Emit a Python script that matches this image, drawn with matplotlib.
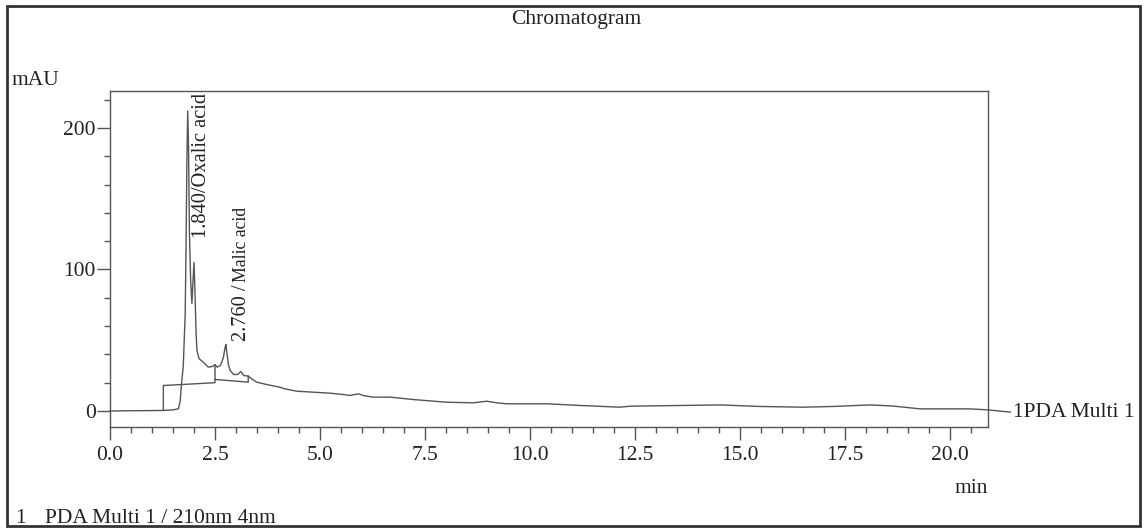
import matplotlib
matplotlib.use("Agg")
import matplotlib.pyplot as plt
import numpy as np
from matplotlib.patches import Rectangle

plt.rcParams["font.family"] = ["Liberation Serif", "DejaVu Serif"]

# --- detector trace (PDA Multi 1, 210 nm) ---
time_min = [0.0, 0.5, 1.0, 1.27, 1.5, 1.63, 1.67, 1.71, 1.745, 1.76, 1.79, 1.81,
            1.83, 1.85, 1.87, 1.89, 1.92, 1.95, 1.976, 2.0, 2.02, 2.05, 2.07, 2.12,
            2.22, 2.34, 2.44, 2.5, 2.55, 2.63, 2.70, 2.74, 2.76, 2.77, 2.82, 2.86,
            2.94, 3.04, 3.11, 3.19, 3.29, 3.37, 3.49, 3.73, 4.05, 4.13, 4.44, 4.84,
            5.24, 5.5, 5.71, 5.91, 6.05, 6.26, 6.67, 7.22, 8.02, 8.65, 8.97, 9.2,
            9.44, 10.4, 11.19, 12.14, 12.38, 13.57, 14.52, 15.48, 16.5, 17.2, 18.1,
            18.6, 19.29, 20.48, 20.9, 21.43]
mau = [0.0, 0.2, 0.3, 0.4, 0.8, 1.6, 7.0, 21.6, 32.0, 45.0, 68.0, 116.0,
       175.0, 212.0, 186.0, 127.0, 92.0, 76.0, 92.0, 105.0, 87.0, 54.6, 42.8, 37.0,
       34.5, 31.0, 31.5, 32.7, 31.0, 32.2, 38.0, 45.0, 47.0, 44.0, 32.4, 28.7,
       25.8, 25.8, 27.9, 25.0, 24.7, 22.8, 20.4, 18.7, 16.8, 15.9, 14.0, 13.3,
       12.6, 11.8, 11.0, 12.1, 10.8, 9.8, 9.8, 8.1, 6.2, 5.8, 6.9, 5.8,
       5.1, 5.1, 3.9, 2.7, 3.4, 3.9, 4.3, 3.2, 2.7, 3.2, 4.3,
       3.6, 1.5, 1.5, 0.8, -0.8]

# integration baselines and drop lines
base_x = [[1.27, 1.27, 2.5, 2.5], [2.5, 3.29, 3.29]]
base_y = [[0.4, 18.0, 20.0, 32.7], [22.3, 20.4, 24.7]]

# peak annotations: (time, label)
peaks = [(1.840, "1.840/Oxalic acid"), (2.760, "2.760 /"), (2.760, "Malic acid")]

W, H = 1146, 529
fig = plt.figure(figsize=(W / 100, H / 100), dpi=100)
ax = fig.add_axes([110 / W, 1 - 427 / H, (988 - 110) / W, (427 - 91) / H])

line_c = "#555555"
ax.plot(time_min, mau, color=line_c, lw=1.0, clip_on=False)
for bx, by in zip(base_x, base_y):
    ax.plot(bx, by, color=line_c, lw=1.0)

ax.set_xlim(0, 20.9)
ax.set_ylim(-11.3, 226.1)

ax.set_xticks(np.arange(0, 20.1, 2.5))
ax.set_xticks(np.arange(0, 20.9, 0.5), minor=True)
ax.set_xticklabels([f"{v:.1f}" for v in np.arange(0, 20.1, 2.5)])
ax.set_yticks([0, 100, 200])
ax.set_yticks(np.arange(0, 221, 20), minor=True)

ax.tick_params(which="major", direction="out", length=9.4, width=1,
               color=line_c, labelsize=15.5, labelcolor="#222222", pad=4)
ax.tick_params(which="minor", direction="out", length=4.3, width=1, color=line_c)
ax.tick_params(axis="y", which="major", pad=1)
for sp in ax.spines.values():
    sp.set_color(line_c)
    sp.set_linewidth(1.0)

# peak labels, rotated
ax.text(2.17, 121.9, peaks[0][1], rotation=90, ha="center", va="bottom",
        fontsize=14.7, color="#222222")
ax.text(3.14, 49.8, peaks[1][1], rotation=90, ha="center", va="bottom",
        fontsize=14.7, color="#222222")
ax.text(3.14, 91.5, peaks[2][1], rotation=90, ha="center", va="bottom",
        fontsize=12.8, color="#222222")

# channel label at the trace end
ax.text(21.5, -1.0, "1PDA Multi 1", ha="left", va="center", fontsize=15.5,
        color="#222222")

fig.text(576 / W, 1 - 24 / H, "Chromatogram", ha="center", va="baseline",
         fontsize=15.5, color="#222222")
fig.text(12 / W, 1 - 85 / H, "mAU", ha="left", va="baseline", fontsize=15.5,
         color="#222222")
fig.text(988 / W, 1 - 493 / H, "min", ha="right", va="baseline", fontsize=15.5,
         color="#222222")
fig.text(15 / W, 1 - 523 / H, "1", ha="left", va="baseline", fontsize=15.5,
         color="#222222")
fig.text(45 / W, 1 - 523 / H, "PDA Multi 1 / 210nm 4nm", ha="left",
         va="baseline", fontsize=15.5, color="#222222")

# outer frame
fig.patches.append(Rectangle((7 / W, 3 / H), (1140 - 7) / W, (526 - 6) / H,
                             transform=fig.transFigure, fill=False,
                             edgecolor="#333333", lw=2))

fig.savefig("out.png", dpi=100, facecolor="white")
